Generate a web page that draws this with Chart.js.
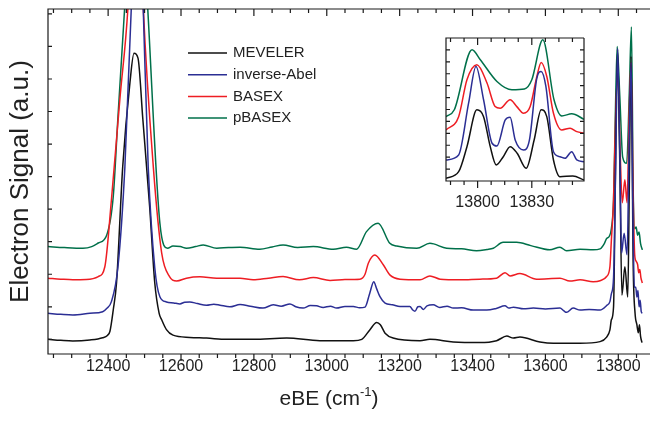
<!DOCTYPE html>
<html>
<head>
<meta charset="utf-8">
<script src="https://cdn.jsdelivr.net/npm/chart.js@4"></script>
<style>
  body { margin: 0; background: #fff; }
  #wrap { position: relative; width: 650px; height: 422px; }
  #main { position: absolute; left: 0; top: 0; }
  #inset { position: absolute; left: 400px; top: 30px; }
</style>
</head>
<body>
<div id="wrap">
  <canvas id="main" width="650" height="422"></canvas>
  <canvas id="inset" width="200" height="200"></canvas>
</div>
<script>
// tick labels
var xTicks = [12400, 12600, 12800, 13000, 13200, 13400, 13600, 13800];
var insetTicks = [13800, 13830];

var seriesNames = ['MEVELER', 'inverse-Abel', 'BASEX', 'pBASEX'];
var seriesColors = ['#111111', '#2b2e94', '#ee1d23', '#00704a'];

// [eBE, signal] (arbitrary units, curves offset)
var meveler = [
  [12235, 0.00], [12270, -0.03], [12303, -0.05], [12350, -0.02], [12385, 0.05], [12398, 0.12],
  [12405, 0.25], [12414, 0.9], [12423, 1.73], [12440, 5.3], [12460, 7.9], [12471, 8.79],
  [12482, 8.64], [12495, 6.8], [12514, 4.07], [12528, 1.73], [12540, 0.8], [12547, 0.6],
  [12560, 0.3], [12578, 0.13], [12624, 0.06], [12670, 0.04], [12725, 0.0], [12798, 0.0],
  [12890, 0.04], [12981, -0.04], [13073, -0.04], [13096, 0.0], [13118, 0.29], [13137, 0.52],
  [13147, 0.45], [13160, 0.19], [13182, 0.04], [13256, -0.04], [13283, 0.0], [13347, -0.08],
  [13420, -0.1], [13466, -0.04], [13494, 0.10], [13512, 0.04], [13530, 0.07], [13585, -0.08],
  [13622, -0.12], [13695, -0.12], [13750, -0.07], [13768, 0.07], [13777, 0.29], [13781, 0.6],
  [13787, 1.0], [13792, 5.0], [13798, 8.9], [13804, 5.5], [13810, 1.36], [13818, 2.23],
  [13826, 1.3], [13830, 4.5], [13835, 8.7], [13841, 2.2], [13846, 0.8], [13851, 0.45],
  [13855, 0.2], [13858, 0.45], [13861, 0.1], [13865, -0.1]
];
var inverseAbel = [
  [12235, 0.80], [12270, 0.77], [12303, 0.75], [12350, 0.80], [12385, 0.85], [12396, 0.95],
  [12409, 1.16], [12427, 2.23], [12446, 5.3], [12464, 10.3], [12480, 16], [12496, 10.3],
  [12510, 5.3], [12528, 2.2], [12542, 1.31], [12560, 1.15], [12580, 1.12], [12597, 1.09],
  [12610, 1.14], [12624, 1.15], [12645, 1.10], [12670, 1.05], [12690, 1.08], [12707, 1.05],
  [12734, 1.0], [12762, 1.07], [12790, 1.02], [12825, 0.96], [12853, 1.06], [12875, 1.02],
  [12899, 1.09], [12915, 1.0], [12935, 0.96], [12955, 1.04], [12972, 1.03], [12990, 0.98],
  [13010, 1.02], [13027, 0.96], [13050, 1.01], [13073, 1.01], [13090, 0.97], [13105, 0.99],
  [13118, 1.42], [13129, 1.77], [13137, 1.55], [13146, 1.31], [13160, 1.11], [13180, 1.06],
  [13201, 1.01], [13228, 1.01], [13236, 0.9], [13242, 0.86], [13250, 1.0], [13256, 1.01],
  [13265, 0.92], [13275, 1.03], [13292, 1.06], [13310, 0.98], [13330, 1.02], [13347, 0.96],
  [13370, 0.97], [13402, 0.9], [13439, 0.9], [13465, 0.95], [13489, 1.03], [13500, 0.96],
  [13512, 0.99], [13540, 0.94], [13567, 0.96], [13600, 0.93], [13640, 0.96], [13650, 0.88],
  [13658, 0.83], [13676, 0.96], [13695, 0.9], [13720, 0.92], [13750, 0.9], [13768, 1.04],
  [13777, 1.16], [13781, 1.4], [13787, 1.9], [13793, 5.5], [13798, 8.94], [13804, 5.8],
  [13809, 2.65], [13816, 3.26], [13824, 2.6], [13830, 6.2], [13835, 8.5], [13840, 4.0],
  [13844, 1.6], [13848, 1.6], [13851, 1.3], [13854, 1.5], [13857, 1.0], [13860, 1.2],
  [13863, 0.85], [13866, 0.8]
];
var basex = [
  [12235, 1.88], [12270, 1.85], [12303, 1.83], [12340, 1.84], [12373, 1.93], [12391, 2.23],
  [12409, 4.28], [12432, 7.35], [12455, 10.3], [12478, 16], [12496, 10.3], [12524, 5.3],
  [12547, 2.65], [12569, 1.92], [12588, 1.79], [12615, 1.88], [12652, 1.92], [12698, 1.88],
  [12762, 1.88], [12798, 1.83], [12840, 1.88], [12880, 1.93], [12925, 1.83], [12963, 1.9],
  [13009, 1.81], [13050, 1.84], [13091, 1.85], [13105, 2.0], [13114, 2.34], [13132, 2.59],
  [13155, 2.29], [13173, 1.98], [13201, 1.85], [13256, 1.83], [13283, 1.95], [13311, 1.85],
  [13366, 1.83], [13420, 1.85], [13466, 1.88], [13489, 2.05], [13503, 1.95], [13530, 2.02],
  [13576, 1.85], [13640, 1.88], [13667, 1.79], [13695, 1.83], [13731, 1.77], [13750, 1.8],
  [13768, 1.93], [13777, 2.23], [13781, 3.05], [13787, 4.28], [13793, 7.0], [13799, 8.2],
  [13805, 5.8], [13811, 4.2], [13818, 4.9], [13824, 4.2], [13830, 7.0], [13835, 8.5],
  [13841, 4.3], [13845, 2.6], [13849, 2.4], [13853, 2.3], [13856, 2.05], [13859, 2.15],
  [13862, 1.9], [13866, 1.73]
];
var pbasex = [
  [12235, 2.85], [12280, 2.82], [12331, 2.80], [12355, 2.85], [12373, 2.96], [12396, 3.2],
  [12414, 4.38], [12427, 6.84], [12446, 10.3], [12478, 16], [12508, 10.3], [12542, 3.57],
  [12563, 2.80], [12578, 2.87], [12598, 2.85], [12615, 2.80], [12640, 2.85], [12661, 2.90],
  [12698, 2.80], [12730, 2.82], [12762, 2.83], [12816, 2.77], [12850, 2.84], [12880, 2.90],
  [12920, 2.82], [12963, 2.85], [13018, 2.77], [13054, 2.83], [13082, 2.77], [13109, 3.31],
  [13141, 3.57], [13173, 2.95], [13192, 2.87], [13247, 2.80], [13283, 2.95], [13329, 2.80],
  [13370, 2.78], [13411, 2.72], [13440, 2.76], [13457, 2.80], [13484, 2.98], [13521, 2.98],
  [13560, 2.88], [13612, 2.75], [13640, 2.83], [13658, 2.72], [13695, 2.77], [13731, 2.75],
  [13750, 2.78], [13762, 2.95], [13768, 3.1], [13775, 3.16], [13781, 3.4], [13787, 4.3],
  [13793, 7.5], [13797, 9.0], [13804, 7.5], [13812, 5.6], [13823, 5.41], [13830, 7.5],
  [13836, 9.6], [13841, 4.5], [13845, 3.4], [13849, 3.45], [13853, 3.2], [13857, 3.3],
  [13861, 2.95], [13866, 2.75]
];

// inset (13783 - 13859 cm-1), own arbitrary scale
var insetMeveler = [
  [13782.5, 0.19], [13789.5, 0.65], [13794.1, 2.4], [13799.6, 4.98], [13803.3, 4.5],
  [13807, 2.4], [13810.3, 1.12], [13814.2, 1.7], [13818, 2.4], [13821.9, 1.94],
  [13826.9, 0.89], [13831.3, 2.87], [13835.2, 4.98], [13838.3, 4.5], [13842, 1.47],
  [13845.6, 0.3], [13852.7, 0.35], [13858.9, 0.07]
];
var insetInverseAbel = [
  [13782.5, 1.47], [13789.5, 1.82], [13795, 5.44], [13799.1, 8.01], [13803.3, 5.68],
  [13808, 2.64], [13810.7, 2.45], [13815.3, 4.27], [13818, 4.46], [13820.8, 2.87],
  [13825.4, 2.17], [13828.7, 2.87], [13832.8, 7.2], [13835.2, 7.66], [13837.8, 6.61],
  [13842, 2.05], [13845.6, 1.7], [13848.4, 1.59], [13852.1, 2.05], [13854.9, 1.47],
  [13858.9, 1.35]
];
var insetBasex = [
  [13782.5, 3.57], [13789.5, 4.5], [13794.1, 7.08], [13799.6, 8.13], [13805.2, 6.85],
  [13809.7, 5.21], [13812.5, 5.09], [13818, 5.68], [13821.7, 5.2], [13825.4, 4.74],
  [13829.1, 5.21], [13832.8, 7.31], [13835.2, 8.29], [13838.3, 7.31], [13842, 4.74],
  [13846.6, 3.57], [13851.2, 3.69], [13854.9, 3.45], [13858.9, 3.34]
];
var insetPbasex = [
  [13782.5, 4.5], [13787.1, 4.98], [13796.9, 9.18], [13801.5, 8.48], [13810.7, 6.96],
  [13819, 6.38], [13825.9, 6.43], [13830, 7.08], [13836.1, 9.87], [13842.3, 5.68],
  [13846.6, 4.55], [13852.1, 4.7], [13858.9, 4.32]
];

var mainSeries = [meveler, inverseAbel, basex, pbasex];
var insetSeries = [insetMeveler, insetInverseAbel, insetBasex, insetPbasex];
var drawOrder = [1, 0, 2, 3]; // blue drawn on top

Chart.defaults.font.family = "'Liberation Sans', Arial, sans-serif";
Chart.defaults.color = '#222';

function toXY(pts) {
  return pts.map(function (p) { return { x: p[0], y: p[1] }; });
}

function makeSets(list) {
  return list.map(function (pts, i) {
    return {
      label: seriesNames[i],
      data: toXY(pts),
      borderColor: seriesColors[i],
      borderWidth: 1.5,
      pointRadius: 0,
      cubicInterpolationMode: 'monotone',
      order: drawOrder[i]
    };
  });
}

// frame + tick marks (bottom out, top/left inside)
var frameTicks = {
  id: 'frameTicks',
  afterDraw: function (chart, args, o) {
    var ctx = chart.ctx, a = chart.chartArea;
    var x = chart.scales.x, y = chart.scales.y;
    ctx.save();
    ctx.strokeStyle = '#1a1a1a';
    ctx.lineWidth = 1.2;
    ctx.beginPath();
    ctx.moveTo(a.right, a.top);
    ctx.lineTo(a.left, a.top);
    ctx.lineTo(a.left, a.bottom);
    ctx.lineTo(a.right, a.bottom);
    if (o.boxed) ctx.lineTo(a.right, a.top);
    for (var v = Math.ceil(x.min / o.xMinor) * o.xMinor; v <= x.max; v += o.xMinor) {
      var major = Math.abs(v / o.xMajor - Math.round(v / o.xMajor)) < 1e-6;
      var len = major ? o.majorLen : o.minorLen;
      var px = x.getPixelForValue(v);
      ctx.moveTo(px, a.bottom); ctx.lineTo(px, a.bottom + len);
      ctx.moveTo(px, a.top); ctx.lineTo(px, a.top + len);
    }
    for (var k = Math.ceil(y.min / o.yStep); k * o.yStep <= y.max; k++) {
      if (k * o.yStep <= y.min + 1e-9) continue;
      var py = y.getPixelForValue(k * o.yStep);
      ctx.moveTo(a.left, py); ctx.lineTo(a.left + o.yLen, py);
      if (o.boxed) { ctx.moveTo(a.right, py); ctx.lineTo(a.right - o.yLen, py); }
    }
    ctx.stroke();
    ctx.restore();
  }
};

// legend inside the plot and the x title with superscript
var extras = {
  id: 'extras',
  afterDraw: function (chart) {
    var ctx = chart.ctx;
    ctx.save();
    ctx.lineWidth = 1.5;
    ctx.font = "15px 'Liberation Sans', Arial, sans-serif";
    ctx.textBaseline = 'middle';
    ctx.fillStyle = '#222';
    chart.data.datasets.forEach(function (d, i) {
      var yy = 53 + i * 21.7;
      ctx.strokeStyle = d.borderColor;
      ctx.beginPath();
      ctx.moveTo(188, yy); ctx.lineTo(227, yy);
      ctx.stroke();
      ctx.fillText(d.label, 233, yy);
    });

    ctx.textBaseline = 'alphabetic';
    var big = "21px 'Liberation Sans', Arial, sans-serif";
    var small = "13px 'Liberation Sans', Arial, sans-serif";
    ctx.font = big;
    var w1 = ctx.measureText('eBE (cm').width, w3 = ctx.measureText(')').width;
    ctx.font = small;
    var w2 = ctx.measureText('-1').width;
    var x0 = 329 - (w1 + w2 + w3) / 2, base = 405;
    ctx.font = big;
    ctx.fillText('eBE (cm', x0, base);
    ctx.font = small;
    ctx.fillText('-1', x0 + w1, base - 9);
    ctx.font = big;
    ctx.fillText(')', x0 + w1 + w2, base);
    ctx.restore();
  }
};

new Chart(document.getElementById('main'), {
  type: 'line',
  data: { datasets: makeSets(mainSeries) },
  options: {
    responsive: false,
    animation: false,
    layout: { padding: { top: 9, right: 0, left: 0, bottom: 0 } },
    plugins: {
      legend: { display: false },
      tooltip: { enabled: false },
      frameTicks: { xMinor: 50, xMajor: 200, majorLen: 7, minorLen: 4, yStep: 1, yLen: 4, boxed: false }
    },
    scales: {
      x: {
        type: 'linear',
        min: 12235,
        max: 13887,
        afterBuildTicks: function (s) { s.ticks = xTicks.map(function (v) { return { value: v }; }); },
        afterFit: function (s) { s.height = 68; },
        grid: { display: false, drawTicks: false },
        border: { display: false },
        ticks: { font: { size: 16 }, padding: 3, maxRotation: 0, autoSkip: false, callback: function (v) { return String(v); } }
      },
      y: {
        min: -0.45,
        max: 10.15,
        afterFit: function (s) { s.width = 48; },
        grid: { display: false, drawTicks: false },
        border: { display: false },
        ticks: { display: false },
        title: { display: true, text: 'Electron Signal (a.u.)', font: { size: 26 }, padding: { top: 5, bottom: 0 } }
      }
    }
  },
  plugins: [frameTicks, extras]
});

new Chart(document.getElementById('inset'), {
  type: 'line',
  data: { datasets: makeSets(insetSeries) },
  options: {
    responsive: false,
    animation: false,
    layout: { padding: { top: 8, right: 16, left: 0, bottom: 0 } },
    plugins: {
      legend: { display: false },
      tooltip: { enabled: false },
      frameTicks: { xMinor: 7.5, xMajor: 30, majorLen: 7, minorLen: 4, yStep: 10 / 12, yLen: 4, boxed: true }
    },
    scales: {
      x: {
        type: 'linear',
        min: 13782.5,
        max: 13858.9,
        afterBuildTicks: function (s) { s.ticks = insetTicks.map(function (v) { return { value: v }; }); },
        afterFit: function (s) { s.height = 49; },
        grid: { display: false, drawTicks: false },
        border: { display: false },
        ticks: { font: { size: 16 }, padding: 12, maxRotation: 0, autoSkip: false, callback: function (v) { return String(v); } }
      },
      y: {
        min: 0,
        max: 10,
        afterFit: function (s) { s.width = 46; },
        grid: { display: false, drawTicks: false },
        border: { display: false },
        ticks: { display: false }
      }
    }
  },
  plugins: [frameTicks]
});
</script>
</body>
</html>
